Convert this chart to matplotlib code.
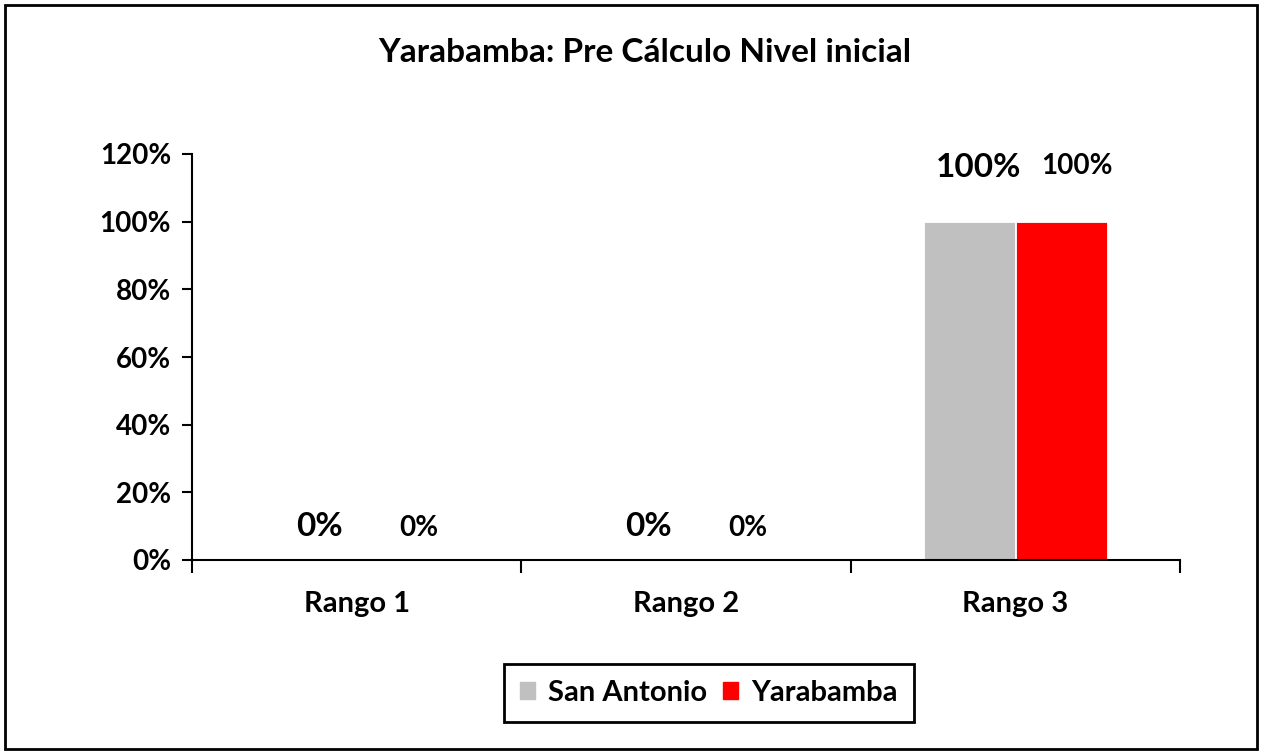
import numpy as np, matplotlib
matplotlib.use("Agg")
import matplotlib.pyplot as plt
from matplotlib.patches import Rectangle, Patch

categories = ["Rango 1", "Rango 2", "Rango 3"]
san_antonio = [0, 0, 100]
yarabamba = [0, 0, 100]
series_names = ["San Antonio", "Yarabamba"]
colors = ["#c0c0c0", "#ff0000"]
yticks = [0, 20, 40, 60, 80, 100, 120]

plt.rcParams["font.family"] = ["Lato", "DejaVu Sans"]
plt.rcParams["font.weight"] = "bold"

W, H = 1264, 754
fig = plt.figure(figsize=(W / 100, H / 100), dpi=100)
fig.patches.append(Rectangle((5 / W, 5 / H), 1252 / W, 744 / H, transform=fig.transFigure,
                             fill=False, edgecolor="black", linewidth=2))

ax = fig.add_axes([192 / W, (H - 560) / H, 988 / W, 406 / H])
x = np.arange(len(categories))
bw = 0.276
ax.bar(x - bw / 2 - 0.002, san_antonio, bw, color=colors[0], edgecolor="white", linewidth=0.6)
ax.bar(x + bw / 2 + 0.002, yarabamba, bw, color=colors[1], edgecolor="white", linewidth=0.6)

for i in range(len(categories)):
    v1, v2 = san_antonio[i], yarabamba[i]
    ax.text(x[i] - bw / 2 + 0.025, v1 * 1.06 + 10, f"{v1:.0f}%", ha="center", va="center",
            fontsize=24, fontweight="bold")
    ax.text(x[i] + bw / 2 + 0.05, v2 * 1.07 + 9.5, f"{v2:.0f}%", ha="center", va="center",
            fontsize=20, fontweight="bold")

ax.set_xlim(-0.5, len(categories) - 0.5)
ax.set_ylim(0, 120)
ax.set_yticks(yticks)
ax.set_yticklabels([f"{t}%" for t in yticks], fontsize=20, fontweight="bold")
ax.set_xticks(x)
ax.set_xticklabels(categories, fontsize=21, fontweight="bold")
ax.tick_params(axis="x", length=0, pad=22)
ax.set_xticks(np.arange(len(categories) + 1) - 0.5, minor=True)
ax.tick_params(axis="x", which="minor", length=9, width=1.5, direction="out")
ax.tick_params(axis="y", length=7, width=1.5, direction="out", pad=8)
for s in ["top", "right"]:
    ax.spines[s].set_visible(False)
for s in ["left", "bottom"]:
    ax.spines[s].set_linewidth(1.5)

fig.text(645 / W, 1 - 53 / H, "Yarabamba: Pre Cálculo Nivel inicial", ha="center", va="center",
         fontsize=24, fontweight="bold")

handles = [Patch(color=c) for c in colors]
leg = fig.legend(handles, series_names, loc="center", bbox_to_anchor=(709 / W, 1 - 693 / H),
                 ncol=2, frameon=True, fancybox=False, edgecolor="black", framealpha=1,
                 prop={"size": 21, "weight": "bold"}, handlelength=0.5, handleheight=0.5,
                 handletextpad=0.45, columnspacing=0.55, borderpad=0.55)
leg.get_frame().set_linewidth(2)

plt.savefig("out.png", dpi=100)
